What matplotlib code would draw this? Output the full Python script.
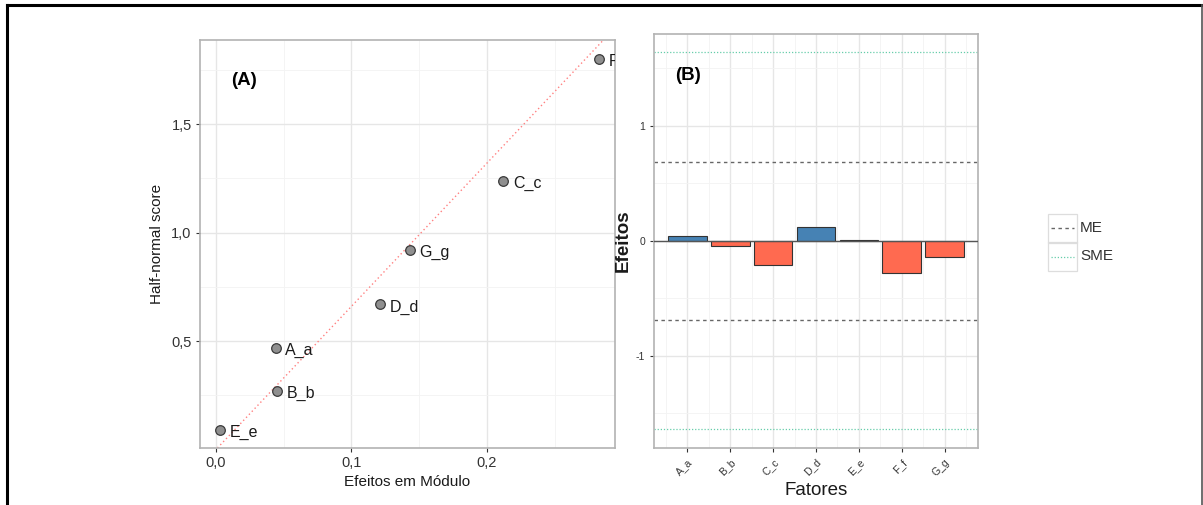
import matplotlib.pyplot as plt
from matplotlib.lines import Line2D
from matplotlib.patches import Rectangle
from matplotlib.ticker import FuncFormatter, MultipleLocator

plt.rcParams['font.family'] = ['Liberation Sans', 'DejaVu Sans']

# data
fatores = ['A_a', 'B_b', 'C_c', 'D_d', 'E_e', 'F_f', 'G_g']
efeitos = [0.044, -0.045, -0.212, 0.121, 0.003, -0.283, -0.143]
half_normal = [0.47, 0.27, 1.24, 0.67, 0.09, 1.80, 0.92]
me = 0.686
sme = 1.64
ref_slope = 6.6
legenda = ['ME', 'SME']

W, H = 1203, 505
fig = plt.figure(figsize=(W / 100, H / 100), dpi=100)


def px_axes(x0, y0, x1, y1):
    # pixel box (top-left origin) -> figure axes
    return fig.add_axes([x0 / W, 1 - y1 / H, (x1 - x0) / W, (y1 - y0) / H])


def bw_style(ax):
    ax.set_facecolor('white')
    for s in ax.spines.values():
        s.set_color('#b3b3b3')
        s.set_linewidth(1.2)
    ax.grid(which='major', color='#e6e6e6', linewidth=1.0)
    ax.grid(which='minor', color='#f3f3f3', linewidth=0.6)
    ax.set_axisbelow(True)
    ax.tick_params(which='major', length=3, color='#333333', width=0.8)
    ax.tick_params(which='minor', length=0)


comma = FuncFormatter(lambda v, p: ('%.1f' % v).replace('.', ','))

# (A) half-normal plot
ax_a = px_axes(200, 40, 615, 448)
bw_style(ax_a)
abs_ef = [abs(v) for v in efeitos]
ax_a.axline((0, 0), slope=ref_slope, color='#ff8080', linestyle=(0, (1, 2)), linewidth=1.0)
ax_a.scatter(abs_ef, half_normal, s=48, color='#8f8f8f', edgecolor='#3a3a3a',
             linewidth=0.9, zorder=3)
for x, y, lab in zip(abs_ef, half_normal, fatores):
    ax_a.annotate(lab, (x, y), xytext=(7, -2), textcoords='offset points',
                  va='center', fontsize=11.5, color='#1a1a1a', clip_on=True)
ax_a.set_xlim(-0.0118, 0.2946)
ax_a.set_ylim(0.007, 1.888)
ax_a.xaxis.set_major_locator(MultipleLocator(0.1))
ax_a.xaxis.set_minor_locator(MultipleLocator(0.05))
ax_a.yaxis.set_major_locator(MultipleLocator(0.5))
ax_a.yaxis.set_minor_locator(MultipleLocator(0.25))
ax_a.xaxis.set_major_formatter(comma)
ax_a.yaxis.set_major_formatter(comma)
ax_a.tick_params(labelsize=10.5, labelcolor='#333333', pad=3)
ax_a.set_xlabel('Efeitos em Módulo', fontsize=11, color='#1a1a1a', labelpad=3)
ax_a.set_ylabel('Half-normal score', fontsize=11, color='#1a1a1a', labelpad=5)
ax_a.text(0.074, 0.9, '(A)', transform=ax_a.transAxes, fontsize=13.5,
          fontweight='bold', va='center')

# (B) bar chart of effects
ax_b = px_axes(654, 34, 978, 448)
bw_style(ax_b)
pos = list(range(len(fatores)))
cores = ['#4682b4' if v > 0 else '#ff6a50' for v in efeitos]
ax_b.bar(pos, efeitos, width=0.9, color=cores, edgecolor='#333333', linewidth=0.8, zorder=2)
ax_b.axhline(0, color='#555555', linewidth=1.0, zorder=3)
for v in (me, -me):
    ax_b.axhline(v, color='#666666', linestyle=(0, (2.5, 2.5)), linewidth=1.0, zorder=1)
for v in (sme, -sme):
    ax_b.axhline(v, color='#66cdaa', linestyle=(0, (1, 1.5)), linewidth=0.9, zorder=1)
ax_b.set_xlim(-0.78, 6.78)
ax_b.set_ylim(-1.803, 1.797)
ax_b.set_xticks(pos)
ax_b.set_xticks([p + 0.5 for p in pos[:-1]] + [-0.5, 6.5], minor=True)
ax_b.set_xticklabels(fatores, rotation=45, ha='right', rotation_mode='anchor')
ax_b.yaxis.set_major_locator(MultipleLocator(1))
ax_b.yaxis.set_minor_locator(MultipleLocator(0.5))
ax_b.yaxis.set_major_formatter(FuncFormatter(lambda v, p: '%d' % v))
ax_b.tick_params(labelsize=7.5, labelcolor='#333333')
ax_b.set_xlabel('Fatores', fontsize=13.5, color='#1a1a1a', labelpad=3)
ax_b.set_ylabel('Efeitos', fontsize=13.5, color='#1a1a1a', fontweight='bold', labelpad=3)
ax_b.text(0.065, 0.9, '(B)', transform=ax_b.transAxes, fontsize=13.5,
          fontweight='bold', va='center')

# legend, drawn by hand so the key boxes line up like the original
estilos = [dict(color='#666666', linestyle=(0, (2.5, 2.5)), linewidth=1.0),
           dict(color='#66cdaa', linestyle=(0, (1, 1.5)), linewidth=0.9)]
for i, (lab, st) in enumerate(zip(legenda, estilos)):
    y0 = 214 + i * 28.5
    yc = 1 - (y0 + 14) / H
    fig.patches.append(Rectangle((1048 / W, 1 - (y0 + 28.5) / H), 29 / W, 28.5 / H,
                                 transform=fig.transFigure, fill=False,
                                 edgecolor='#dddddd', linewidth=0.9))
    fig.add_artist(Line2D([1051 / W, 1074 / W], [yc, yc], **st))
    fig.text(1080 / W, yc, lab, fontsize=11, color='#333333', va='center')

# outer frame of the figure
fig.add_artist(Line2D([7 / W, 1201.5 / W], [1 - 5 / H, 1 - 5 / H], color='black', linewidth=2.2))
fig.add_artist(Line2D([7 / W, 7 / W], [0, 1 - 5 / H], color='black', linewidth=2.2))
fig.add_artist(Line2D([1201.5 / W, 1201.5 / W], [0, 1 - 5 / H], color='#555555', linewidth=1.2))

fig.savefig('out.png', dpi=100)
